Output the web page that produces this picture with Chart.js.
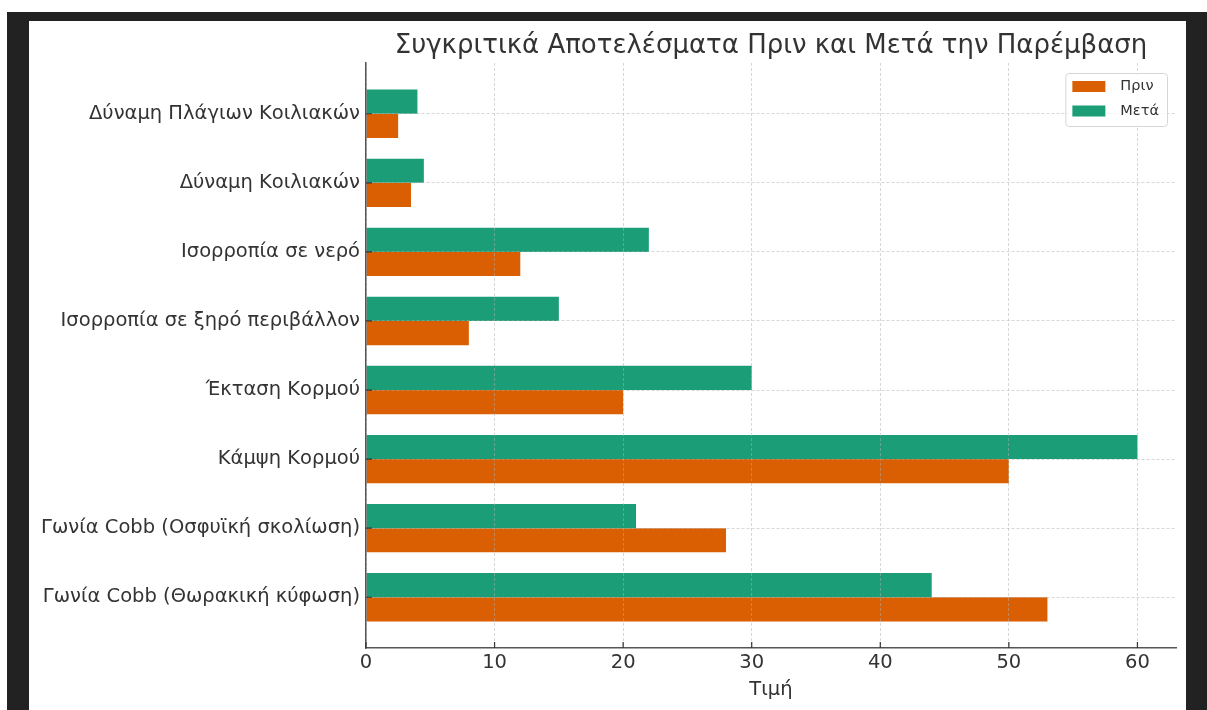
<!DOCTYPE html>
<html lang="el">
<head>
<meta charset="utf-8">
<title>Συγκριτικά Αποτελέσματα</title>
<script src="https://cdn.jsdelivr.net/npm/chart.js@4.4.1/dist/chart.umd.min.js"></script>
<style>
  html, body { margin: 0; padding: 0; background: #fff; }
  body { width: 1207px; height: 710px; position: relative; overflow: hidden; }
  .frame { position: absolute; left: 7px; top: 12px; right: 0; bottom: 0; background: #222; }
  .panel { position: absolute; left: 29px; top: 21px; width: 1157px; height: 689px; background: #fff; }
  .panel canvas { display: block; }
</style>
</head>
<body>
<div class="frame"></div>
<div class="panel"><canvas id="chart" width="1157" height="689"></canvas></div>
<script>
// κατηγορίες από κάτω προς τα πάνω (θέση 0 = κάτω)
const categories = [
  'Γωνία Cobb (Θωρακική κύφωση)',
  'Γωνία Cobb (Οσφυϊκή σκολίωση)',
  'Κάμψη Κορμού',
  'Έκταση Κορμού',
  'Ισορροπία σε ξηρό περιβάλλον',
  'Ισορροπία σε νερό',
  'Δύναμη Κοιλιακών',
  'Δύναμη Πλάγιων Κοιλιακών'
];
const prin = [53, 28, 50, 20, 8, 12, 3.5, 2.5];
const meta = [44, 21, 60, 30, 15, 22, 4.5, 4];
const xTicks = [0, 10, 20, 30, 40, 50, 60];

const ORANGE = '#d95f02';
const GREEN = '#1b9e77';
const TEXT = '#333';
const GRID = 'rgba(176,176,176,0.5)';

Chart.defaults.font.family = "'DejaVu Sans', sans-serif";
Chart.defaults.color = TEXT;

const toPoints = (arr) => arr.map((v, i) => ({ x: v, y: i }));

// μικρές γραμμές υποδιαίρεσης προς τα μέσα
const innerTicks = {
  id: 'innerTicks',
  afterDraw(chart) {
    const { ctx, chartArea, scales } = chart;
    ctx.save();
    ctx.strokeStyle = TEXT;
    ctx.lineWidth = 1.2;
    ctx.beginPath();
    scales.x.ticks.forEach((t) => {
      const px = scales.x.getPixelForValue(t.value);
      ctx.moveTo(px, chartArea.bottom);
      ctx.lineTo(px, chartArea.bottom - 6);
    });
    scales.y.ticks.forEach((t) => {
      const py = scales.y.getPixelForValue(t.value);
      ctx.moveTo(chartArea.left, py);
      ctx.lineTo(chartArea.left + 6, py);
    });
    ctx.stroke();
    ctx.restore();
  }
};

// υπόμνημα μέσα στην περιοχή του γραφήματος, πάνω δεξιά
const legendBox = {
  id: 'legendBox',
  afterDraw(chart) {
    const { ctx, chartArea } = chart;
    const items = chart.data.datasets.slice().reverse();
    ctx.save();
    ctx.font = "14.5px 'DejaVu Sans', sans-serif";
    const textW = Math.max(...items.map((d) => ctx.measureText(d.label).width));
    const w = 7 + 33 + 15 + textW + 8;
    const h = 53;
    const x = chartArea.right - 9 - w;
    const y = chartArea.top + 10;
    ctx.fillStyle = 'rgba(255,255,255,0.8)';
    ctx.strokeStyle = '#d6d6d6';
    ctx.lineWidth = 1;
    ctx.beginPath();
    ctx.roundRect(x + 0.5, y + 0.5, w, h, 3);
    ctx.fill();
    ctx.stroke();
    ctx.textBaseline = 'middle';
    items.forEach((d, i) => {
      const cy = y + 13.5 + i * 24.5;
      ctx.fillStyle = d.backgroundColor;
      ctx.fillRect(x + 7, cy - 5.5, 33, 11);
      ctx.fillStyle = TEXT;
      ctx.fillText(d.label, x + 7 + 33 + 15, cy);
    });
    ctx.restore();
  }
};

new Chart(document.getElementById('chart'), {
  type: 'bar',
  data: {
    datasets: [
      { label: 'Μετά', data: toPoints(meta), backgroundColor: GREEN },
      { label: 'Πριν', data: toPoints(prin), backgroundColor: ORANGE }
    ]
  },
  options: {
    indexAxis: 'y',
    responsive: false,
    animation: false,
    events: [],
    categoryPercentage: 0.7,
    barPercentage: 1.0,
    layout: { padding: { left: 0, right: 10, top: 0, bottom: 0 } },
    plugins: {
      legend: { display: false },
      tooltip: { enabled: false },
      title: {
        display: true,
        text: 'Συγκριτικά Αποτελέσματα Πριν και Μετά την Παρέμβαση',
        fullSize: false,
        color: TEXT,
        font: { size: 26, weight: 'normal' },
        padding: { top: 9.4, bottom: 1.4 }
      }
    },
    scales: {
      x: {
        type: 'linear',
        min: 0,
        max: 63,
        afterBuildTicks: (axis) => { axis.ticks = xTicks.map((v) => ({ value: v })); },
        afterFit: (axis) => { axis.height = 62; },
        ticks: { font: { size: 19.5 }, color: TEXT, padding: 3 },
        grid: { color: GRID, lineWidth: 1, drawTicks: false, z: 1 },
        border: { display: true, color: '#555', width: 1.5, dash: [3, 2], z: 2 },
        title: { display: true, text: 'Τιμή', font: { size: 19.5 }, color: TEXT, padding: { top: 0, bottom: 8 } }
      },
      y: {
        type: 'linear',
        min: -0.735,
        max: 7.735,
        offset: false,
        afterBuildTicks: (axis) => { axis.ticks = categories.map((_, i) => ({ value: i })); },
        afterFit: (axis) => { axis.width = 337; },
        ticks: { font: { size: 19.5 }, color: TEXT, padding: 6, callback: (v) => categories[v] },
        grid: { color: GRID, lineWidth: 1, drawTicks: false, offset: false, z: 1 },
        border: { display: true, color: '#555', width: 1.5, dash: [3, 2], z: 2 }
      }
    }
  },
  plugins: [innerTicks, legendBox]
});
</script>
</body>
</html>
